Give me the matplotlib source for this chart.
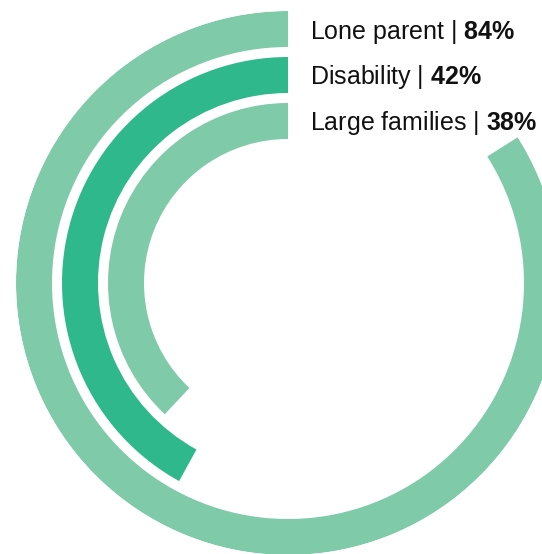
import numpy as np
import matplotlib
matplotlib.use("Agg")
import matplotlib.pyplot as plt

plt.rcParams['font.family'] = ['Liberation Sans', 'DejaVu Sans']
plt.rcParams['mathtext.fontset'] = 'custom'
plt.rcParams['mathtext.rm'] = 'Liberation Sans'
plt.rcParams['mathtext.bf'] = 'Liberation Sans:bold'

# share of households in each group
groups = ['Lone parent', 'Disability', 'Large families']
shares = [84, 42, 38]
colors = ['#7fcaa9', '#2fb88b', '#7fcaa9']

W, H = 542, 554
cx, cy = 288, 283          # ring centre, px from top-left
r_max = 272
ring_w = 36
ring_outer = [272, 226, 180]

fig = plt.figure(figsize=(W / 100, H / 100), dpi=100)

# polar axes sized so that r_max sits on the axes edge
ax = fig.add_axes([(cx - r_max) / W, (H - cy - r_max) / H,
                   2 * r_max / W, 2 * r_max / H], projection='polar')
ax.set_theta_zero_location('N')
ax.set_theta_direction(1)
ax.set_ylim(0, r_max)
ax.axis('off')

for share, r_out, col in zip(shares, ring_outer, colors):
    sweep = share / 100 * 2 * np.pi
    ax.bar(0, ring_w, width=sweep, bottom=r_out - ring_w, align='edge',
           color=col, edgecolor='none')

# labels to the right of the ring starts
label_y = [39, 84, 130]
for name, share, y in zip(groups, shares, label_y):
    fig.text(310 / W, 1 - y / H, name + r' | $\mathbf{' + str(share) + r'\%}$',
             fontsize=18, color='#111111', ha='left', va='baseline')

fig.savefig('out.png', dpi=100)
